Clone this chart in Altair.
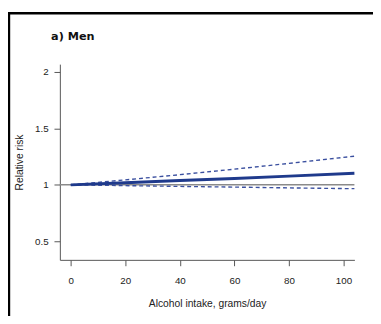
import altair as alt
import pandas as pd

# Data
intake = [0, 20, 40, 60, 80, 104]
rr_est = [1.0, 1.019, 1.038, 1.057, 1.077, 1.103]
rr_upper = [1.0, 1.044, 1.09, 1.139, 1.19, 1.254]
rr_lower = [1.0, 0.993, 0.986, 0.980, 0.973, 0.966]
x_ticks = [0, 20, 40, 60, 80, 100]
y_ticks = [0.5, 1, 1.5, 2]
ref_x = [-4, 104]
ref_y = [1, 1]

df = pd.DataFrame({"x": intake, "est": rr_est, "up": rr_upper, "lo": rr_lower})
ref = pd.DataFrame({"x": ref_x, "y": ref_y})

xscale = alt.Scale(domain=[-4, 104], nice=False, zero=False)
yscale = alt.Scale(domain=[0.335, 2.07], nice=False, zero=False)

axis_common = dict(
    domainColor="#555555", tickColor="#555555", labelColor="#222222",
    titleColor="#222222", labelFont="Liberation Sans", titleFont="Liberation Sans",
    labelFontSize=10, titleFontSize=10.5, titleFontWeight="normal", grid=False,
    tickSize=6, domainWidth=1, tickWidth=1,
)

xaxis = alt.Axis(values=x_ticks, labelPadding=10, titlePadding=14,
                 title="Alcohol intake, grams/day", **axis_common)
yaxis = alt.Axis(values=y_ticks, format="~g", labelPadding=6, titlePadding=10,
                 title="Relative risk", **axis_common)

refline = alt.Chart(ref).mark_line(color="#8a8a8a", strokeWidth=1.5).encode(
    x=alt.X("x:Q", scale=xscale, axis=xaxis),
    y=alt.Y("y:Q", scale=yscale, axis=yaxis),
)

base = alt.Chart(df)
est = base.mark_line(color="#1f3a8c", strokeWidth=3).encode(
    x=alt.X("x:Q", scale=xscale), y=alt.Y("est:Q", scale=yscale))
up = base.mark_line(color="#3a4f9f", strokeWidth=1.4, strokeDash=[4, 3]).encode(
    x=alt.X("x:Q", scale=xscale), y=alt.Y("up:Q", scale=yscale))
lo = base.mark_line(color="#3a4f9f", strokeWidth=1.4, strokeDash=[4, 3]).encode(
    x=alt.X("x:Q", scale=xscale), y=alt.Y("lo:Q", scale=yscale))

title = alt.Chart(pd.DataFrame({"t": ["a) Men"]})).mark_text(
    align="left", baseline="middle", fontWeight="bold", fontSize=11.5,
    font="DejaVu Sans", color="#111111"
).encode(text="t:N", x=alt.value(-9), y=alt.value(-28))

frame_left = alt.Chart(pd.DataFrame({"a": [0]})).mark_rule(
    color="black", strokeWidth=2.5
).encode(x=alt.value(-52), y=alt.value(-53.2), y2=alt.value(400))
frame_top = alt.Chart(pd.DataFrame({"a": [0]})).mark_rule(
    color="black", strokeWidth=2.5
).encode(y=alt.value(-52), x=alt.value(-53.2), x2=alt.value(400))

chart = alt.layer(refline, lo, up, est, title, frame_left, frame_top).properties(
    width=301, height=200,
    autosize=alt.AutoSizeParams(type="none"),
    padding={"left": 53, "top": 54, "right": 19, "bottom": 54},
    background="white",
).configure_view(stroke=None)

chart.save("out.html", embed_options={"renderer": "svg", "actions": False})
